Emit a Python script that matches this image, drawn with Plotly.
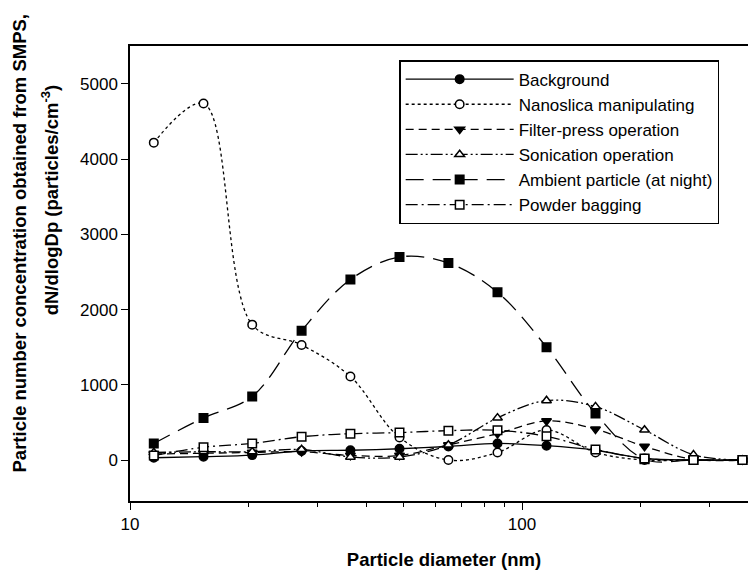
import plotly.graph_objects as go

# Particle diameter (nm) - SMPS bin midpoints
diameter = [11.5, 15.4, 20.5, 27.4, 36.5, 48.7, 64.9, 86.6, 115.5, 154.0, 205.4, 273.8, 365.2]

background = [30, 45, 65, 120, 130, 150, 180, 220, 190, 130, 20, 0, 0]
nanoslica = [4220, 4740, 1800, 1530, 1110, 300, 0, 100, 400, 100, 0, 0, 0]
filter_press = [80, 90, 100, 110, 60, 60, 200, 350, 520, 410, 180, 10, 0]
sonication = [100, 110, 110, 140, 40, 40, 200, 560, 790, 710, 400, 70, 0]
ambient = [220, 560, 845, 1720, 2400, 2700, 2620, 2230, 1500, 620, 10, 0, 0]
powder = [60, 170, 220, 310, 350, 365, 390, 395, 315, 140, 20, 0, 0]

y_ticks = [0, 1000, 2000, 3000, 4000, 5000]
x_major_ticks = [10, 100]
x_minor_ticks = [20, 30, 40, 50, 60, 70, 80, 90, 200, 300]

series = [
    ("Background", background, "solid", "circle", "black"),
    ("Nanoslica manipulating", nanoslica, "dot", "circle", "white"),
    ("Filter-press operation", filter_press, "8px,5px", "triangle-down", "black"),
    ("Sonication operation", sonication, "12px,3px,2px,3px,2px,3px", "triangle-up", "white"),
    ("Ambient particle (at night)", ambient, "18px,9px", "square", "black"),
    ("Powder bagging", powder, "12px,4px,2px,4px", "square", "white"),
]

fig = go.Figure()
for name, vals, dash, sym, fill in series:
    fig.add_trace(go.Scatter(
        x=diameter, y=vals, name=name, mode="lines+markers",
        line=dict(color="black", width=1.3, dash=dash, shape="spline", smoothing=1.0),
        marker=dict(symbol=sym, size=8.5, color=fill,
                    line=dict(color="black", width=1.5)),
    ))

font_family = "Liberation Sans, Arial, sans-serif"

fig.update_layout(
    width=756, height=572,
    margin=dict(l=122, r=4, t=38, b=79),
    paper_bgcolor="white", plot_bgcolor="white",
    font=dict(family=font_family, color="black", size=17),
    showlegend=True,
    legend=dict(
        x=0.4286, y=0.969, xanchor="left", yanchor="top",
        bordercolor="black", borderwidth=1.5, bgcolor="white",
        font=dict(size=17, family=font_family),
        itemwidth=108, tracegroupgap=0,
    ),
)

fig.update_xaxes(
    type="log", range=[1, 2.60206],
    tickmode="array", tickvals=x_major_ticks, ticktext=[str(v) for v in x_major_ticks],
    ticks="outside", ticklen=7, tickwidth=1.3, tickcolor="black",
    minor=dict(tickmode="array", tickvals=x_minor_ticks, ticks="outside", ticklen=4,
               tickwidth=1.3, tickcolor="black", showgrid=False),
    showline=True, linecolor="black", linewidth=1.5, mirror=True,
    showgrid=False, zeroline=False,
    tickfont=dict(size=17),
    title=dict(text="<b>Particle diameter (nm)</b>", font=dict(size=18.5), standoff=20),
)
fig.update_yaxes(
    range=[-545, 5505],
    tickmode="array", tickvals=y_ticks,
    ticks="outside", ticklen=7, tickwidth=1.3, tickcolor="black",
    showline=True, linecolor="black", linewidth=1.5, mirror=True,
    showgrid=False, zeroline=False,
    tickfont=dict(size=17),
)

fig.add_annotation(
    text="<b>Particle number concentration obtained from SMPS,</b>",
    xref="paper", yref="paper", x=-0.176, y=0.567,
    xanchor="center", yanchor="middle", textangle=-90, showarrow=False,
    font=dict(size=18.5),
)
fig.add_annotation(
    text="<b>dN/dlogDp (particles/cm<sup>-3</sup>)</b>",
    xref="paper", yref="paper", x=-0.128, y=0.66,
    xanchor="center", yanchor="middle", textangle=-90, showarrow=False,
    font=dict(size=18.5),
)

fig.write_html("out.html")
